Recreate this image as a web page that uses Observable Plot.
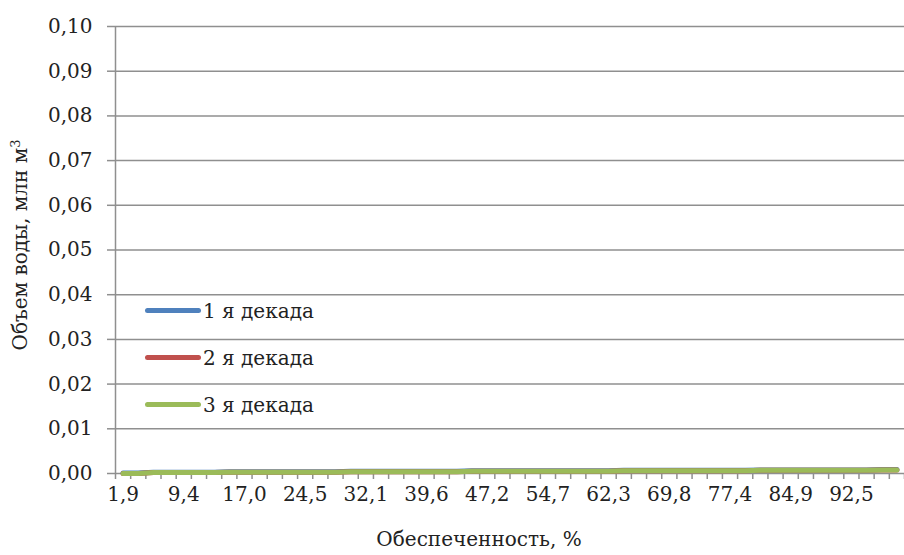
<!DOCTYPE html>
<html>
<head>
<meta charset="utf-8">
<script src="https://cdn.jsdelivr.net/npm/d3@7"></script>
<script src="https://cdn.jsdelivr.net/npm/@observablehq/plot@0.6"></script>
<style>
  html, body { margin: 0; padding: 0; background: #fff; }
  #wrap { position: relative; width: 904px; height: 555px; overflow: hidden; font-family: "DejaVu Serif", serif; color: #222; }
  #legend { position: absolute; left: 145px; top: 287px; }
  .item { display: flex; align-items: center; height: 47px; font-size: 20px; }
  .sw { width: 56px; height: 5px; border-radius: 3px; margin-right: 2px; }
  #xtitle { position: absolute; left: 0; width: 958px; text-align: center; top: 527px; font-size: 20px; }
  #ytitle { position: absolute; left: 20px; top: 245px; font-size: 20px; transform: translate(-50%, -50%) rotate(-90deg); white-space: nowrap; }
</style>
</head>
<body>
<div id="wrap">
  <div id="chart"></div>
  <div id="ytitle">Объем воды, млн м<sup style="font-size:13px">3</sup></div>
  <div id="xtitle">Обеспеченность, %</div>
  <div id="legend"></div>
</div>
<script>
// Обеспеченность, % (categories)
const categories = [
  "1,9","3,8","5,7","7,5","9,4","11,3","13,2","15,1","17,0","18,9","20,8","22,6","24,5",
  "26,4","28,3","30,2","32,1","34,0","35,8","37,7","39,6","41,5","43,4","45,3","47,2",
  "49,1","50,9","52,8","54,7","56,6","58,5","60,4","62,3","64,2","66,0","67,9","69,8",
  "71,7","73,6","75,5","77,4","79,2","81,1","83,0","84,9","86,8","88,7","90,6","92,5",
  "94,3","96,2","98,1"
];
const seriesNames = ["1 я декада", "2 я декада", "3 я декада"];
const seriesColors = ["#4F81BD", "#C0504D", "#9BBB59"];
// Объем воды, млн м3
const decade1 = [
  0.0001,0.0001,0.0003,0.0003,0.0003,0.0003,0.0003,0.0004,0.0004,0.0004,0.0004,0.0004,0.0004,
  0.0004,0.0004,0.0005,0.0005,0.0005,0.0005,0.0005,0.0005,0.0005,0.0005,0.0006,0.0006,
  0.0006,0.0006,0.0006,0.0006,0.0006,0.0006,0.0006,0.0006,0.0007,0.0007,0.0007,0.0007,
  0.0007,0.0007,0.0007,0.0007,0.0007,0.0008,0.0008,0.0008,0.0008,0.0008,0.0008,0.0008,
  0.0008,0.0009,0.0009
];
const decade2 = [
  0.0000,0.0000,0.0002,0.0002,0.0002,0.0002,0.0002,0.0003,0.0003,0.0003,0.0003,0.0003,0.0003,
  0.0003,0.0003,0.0004,0.0004,0.0004,0.0004,0.0004,0.0004,0.0004,0.0004,0.0005,0.0005,
  0.0005,0.0005,0.0005,0.0005,0.0005,0.0005,0.0005,0.0005,0.0006,0.0006,0.0006,0.0006,
  0.0006,0.0006,0.0006,0.0006,0.0006,0.0007,0.0007,0.0007,0.0007,0.0007,0.0007,0.0007,
  0.0007,0.0008,0.0008
];
const decade3 = [
  0.0000,0.0000,0.0002,0.0002,0.0002,0.0002,0.0002,0.0003,0.0003,0.0003,0.0003,0.0003,0.0003,
  0.0003,0.0003,0.0004,0.0004,0.0004,0.0004,0.0004,0.0004,0.0004,0.0004,0.0005,0.0005,
  0.0005,0.0005,0.0005,0.0005,0.0005,0.0005,0.0005,0.0005,0.0006,0.0006,0.0006,0.0006,
  0.0006,0.0006,0.0006,0.0006,0.0006,0.0007,0.0007,0.0007,0.0007,0.0007,0.0007,0.0007,
  0.0007,0.0008,0.0008
];
const yTicks = [0,0.01,0.02,0.03,0.04,0.05,0.06,0.07,0.08,0.09,0.10];

const allSeries = [decade1, decade2, decade3];
const rows = [];
allSeries.forEach((vals, s) => vals.forEach((v, i) => rows.push({series: seriesNames[s], idx: i + 1, value: v})));

const n = categories.length;
const labelIdx = categories.map((_, i) => i + 1).filter(i => (i - 1) % 4 === 0);
const boundaries = d3.range(0, n + 1).map(i => i + 0.5);
const fmt = d => d.toFixed(2).replace(".", ",");
const gridColor = "#8f8f8f";

const plot = Plot.plot({
  width: 904,
  height: 515,
  marginLeft: 115,
  marginRight: 0,
  marginTop: 26,
  marginBottom: 42,
  style: {fontFamily: "'DejaVu Serif', serif", fontSize: "20px", color: "#222", background: "transparent"},
  x: {type: "linear", domain: [0.5, n + 0.5]},
  y: {domain: [0, 0.1]},
  color: {domain: seriesNames, range: seriesColors},
  marks: [
    Plot.ruleY(yTicks, {stroke: gridColor, strokeWidth: 1.5}),
    Plot.axisY(yTicks, {tickSize: 8, tickPadding: 15, tickFormat: fmt, stroke: gridColor, strokeWidth: 1.5, label: null, fill: "#222", fontSize: 20}),
    Plot.ruleX([0.5], {stroke: gridColor, strokeWidth: 1.5}),
    Plot.axisX(boundaries, {tickSize: 6, tickFormat: () => "", stroke: gridColor, strokeWidth: 1.5, label: null}),
    Plot.axisX(labelIdx, {tickSize: 0, tickPadding: 13, tickFormat: i => categories[i - 1], label: null, fill: "#222", fontSize: 20}),
    Plot.line(rows, {x: "idx", y: "value", z: "series", stroke: "series", strokeWidth: 5})
  ]
});
document.getElementById("chart").appendChild(plot);

const legend = document.getElementById("legend");
seriesNames.forEach((name, i) => {
  const item = document.createElement("div");
  item.className = "item";
  const sw = document.createElement("span");
  sw.className = "sw";
  sw.style.background = seriesColors[i];
  const t = document.createElement("span");
  t.textContent = name;
  item.appendChild(sw);
  item.appendChild(t);
  legend.appendChild(item);
});
</script>
</body>
</html>
